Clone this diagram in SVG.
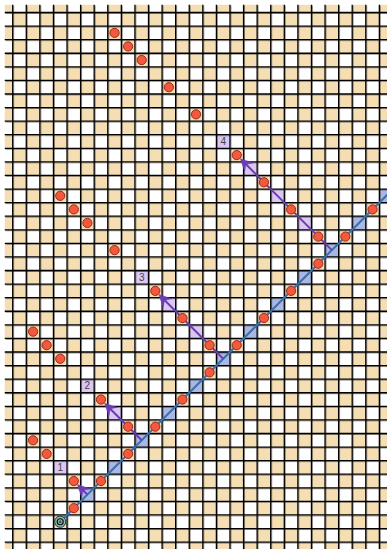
<svg xmlns="http://www.w3.org/2000/svg" width="387" height="549" viewBox="0 0 387 549">
<style>
.dot{fill:#f25a3f;stroke:#a3261a;stroke-width:1}
.bc{fill:#a9b8e3}
.pc{fill:#dcc6f2}
.lab{font-family:"Liberation Sans",Arial,sans-serif;font-size:10px;fill:#444;text-anchor:middle}
.arr{fill:none;stroke:#6a3db5;stroke-width:2}
.ahd{fill:#6a3db5;stroke:#6a3db5;stroke-width:0.5;stroke-linejoin:round}
</style>
<defs>
<pattern id="cb" patternUnits="userSpaceOnUse" x="-0.88" y="-1.08" width="27.16" height="27.16">
<rect width="27.16" height="27.16" fill="#fff"/>
<rect x="0" y="0" width="13.58" height="13.58" fill="#f5deb3"/>
<rect x="13.58" y="13.58" width="13.58" height="13.58" fill="#f5deb3"/>
</pattern>
<clipPath id="cl"><rect x="4.5" y="4.5" width="382.5" height="544.5"/></clipPath>
</defs>
<rect width="387" height="549" fill="#fff"/>
<g id="board" clip-path="url(#cl)">
<rect x="4.5" y="4.5" width="382.5" height="544.5" fill="url(#cb)"/>
<g id="bluecells">
<rect class="bc" x="80.60" y="487.80" width="13.58" height="13.58"/>
<rect class="bc" x="107.76" y="460.64" width="13.58" height="13.58"/>
<rect class="bc" x="134.92" y="433.48" width="13.58" height="13.58"/>
<rect class="bc" x="162.08" y="406.32" width="13.58" height="13.58"/>
<rect class="bc" x="189.24" y="379.16" width="13.58" height="13.58"/>
<rect class="bc" x="216.40" y="352.00" width="13.58" height="13.58"/>
<rect class="bc" x="243.56" y="324.84" width="13.58" height="13.58"/>
<rect class="bc" x="270.72" y="297.68" width="13.58" height="13.58"/>
<rect class="bc" x="297.88" y="270.52" width="13.58" height="13.58"/>
<rect class="bc" x="325.04" y="243.36" width="13.58" height="13.58"/>
<rect class="bc" x="352.20" y="216.20" width="13.58" height="13.58"/>
<rect class="bc" x="379.36" y="189.04" width="13.58" height="13.58"/>
</g>
<g id="purplecells">
<rect class="pc" x="297.88" y="216.20" width="13.58" height="13.58"/>
<rect class="pc" x="270.72" y="189.04" width="13.58" height="13.58"/>
<rect class="pc" x="243.56" y="161.88" width="13.58" height="13.58"/>
<rect class="pc" x="189.24" y="324.84" width="13.58" height="13.58"/>
<rect class="pc" x="162.08" y="297.68" width="13.58" height="13.58"/>
<rect class="pc" x="107.76" y="406.32" width="13.58" height="13.58"/>
</g>
<g id="labelboxes">
<rect class="pc" x="53.44" y="460.64" width="13.58" height="13.58"/>
<rect class="pc" x="80.60" y="379.16" width="13.58" height="13.58"/>
<rect class="pc" x="134.92" y="270.52" width="13.58" height="13.58"/>
<rect class="pc" x="216.40" y="134.72" width="13.58" height="13.58"/>
</g>
<g id="gridlines">
<path transform="translate(1,1)" stroke="#000" stroke-opacity="0.4" stroke-width="1" fill="none" d="M12.70 4.5V549M26.28 4.5V549M39.86 4.5V549M53.44 4.5V549M67.02 4.5V549M80.60 4.5V549M94.18 4.5V549M107.76 4.5V549M121.34 4.5V549M134.92 4.5V549M148.50 4.5V549M162.08 4.5V549M175.66 4.5V549M189.24 4.5V549M202.82 4.5V549M216.40 4.5V549M229.98 4.5V549M243.56 4.5V549M257.14 4.5V549M270.72 4.5V549M284.30 4.5V549M297.88 4.5V549M311.46 4.5V549M325.04 4.5V549M338.62 4.5V549M352.20 4.5V549M365.78 4.5V549M379.36 4.5V549M4.5 12.50H387M4.5 26.08H387M4.5 39.66H387M4.5 53.24H387M4.5 66.82H387M4.5 80.40H387M4.5 93.98H387M4.5 107.56H387M4.5 121.14H387M4.5 134.72H387M4.5 148.30H387M4.5 161.88H387M4.5 175.46H387M4.5 189.04H387M4.5 202.62H387M4.5 216.20H387M4.5 229.78H387M4.5 243.36H387M4.5 256.94H387M4.5 270.52H387M4.5 284.10H387M4.5 297.68H387M4.5 311.26H387M4.5 324.84H387M4.5 338.42H387M4.5 352.00H387M4.5 365.58H387M4.5 379.16H387M4.5 392.74H387M4.5 406.32H387M4.5 419.90H387M4.5 433.48H387M4.5 447.06H387M4.5 460.64H387M4.5 474.22H387M4.5 487.80H387M4.5 501.38H387M4.5 514.96H387M4.5 528.54H387M4.5 542.12H387"/>
<path stroke="#000" stroke-width="1.3" fill="none" d="M12.70 4.5V549M26.28 4.5V549M39.86 4.5V549M53.44 4.5V549M67.02 4.5V549M80.60 4.5V549M94.18 4.5V549M107.76 4.5V549M121.34 4.5V549M134.92 4.5V549M148.50 4.5V549M162.08 4.5V549M175.66 4.5V549M189.24 4.5V549M202.82 4.5V549M216.40 4.5V549M229.98 4.5V549M243.56 4.5V549M257.14 4.5V549M270.72 4.5V549M284.30 4.5V549M297.88 4.5V549M311.46 4.5V549M325.04 4.5V549M338.62 4.5V549M352.20 4.5V549M365.78 4.5V549M379.36 4.5V549M4.5 12.50H387M4.5 26.08H387M4.5 39.66H387M4.5 53.24H387M4.5 66.82H387M4.5 80.40H387M4.5 93.98H387M4.5 107.56H387M4.5 121.14H387M4.5 134.72H387M4.5 148.30H387M4.5 161.88H387M4.5 175.46H387M4.5 189.04H387M4.5 202.62H387M4.5 216.20H387M4.5 229.78H387M4.5 243.36H387M4.5 256.94H387M4.5 270.52H387M4.5 284.10H387M4.5 297.68H387M4.5 311.26H387M4.5 324.84H387M4.5 338.42H387M4.5 352.00H387M4.5 365.58H387M4.5 379.16H387M4.5 392.74H387M4.5 406.32H387M4.5 419.90H387M4.5 433.48H387M4.5 447.06H387M4.5 460.64H387M4.5 474.22H387M4.5 487.80H387M4.5 501.38H387M4.5 514.96H387M4.5 528.54H387M4.5 542.12H387"/>
</g>
</g>
<g id="connectors" clip-path="url(#cl)">
<path id="ray" d="M60.23 521.75L400 181.98" fill="none" stroke="#3e6fa8" stroke-width="2"/>
<g id="arrow1">
<path class="arr" d="M87.39 494.59L82.5 489.7"/>
<path class="ahd" d="M77.41 484.61L90.14 488.86L83.07 490.27L81.66 497.34Z"/>
</g>
<g id="arrow2">
<path class="arr" d="M141.71 440.27L109.9 408.5"/>
<path class="ahd" d="M104.57 403.13L117.30 407.38L110.23 408.79L108.82 415.86Z"/>
</g>
<g id="arrow3">
<path class="arr" d="M223.19 358.79L164.2 299.8"/>
<path class="ahd" d="M158.89 294.49L171.62 298.74L164.55 300.15L163.14 307.22Z"/>
</g>
<g id="arrow4">
<path class="arr" d="M331.83 250.15L245.7 164.0"/>
<path class="ahd" d="M240.37 158.69L253.10 162.94L246.03 164.35L244.62 171.42Z"/>
</g>
</g>
<g id="labels">
<text class="lab" x="60.23" y="470.9">1</text>
<text class="lab" x="87.39" y="389.4">2</text>
<text class="lab" x="141.71" y="280.8">3</text>
<text class="lab" x="223.19" y="145.0">4</text>
</g>
<g id="dots">
<circle class="dot" cx="114.55" cy="32.87" r="4.6"/>
<circle class="dot" cx="128.13" cy="46.45" r="4.6"/>
<circle class="dot" cx="141.71" cy="60.03" r="4.6"/>
<circle class="dot" cx="168.87" cy="87.19" r="4.6"/>
<circle class="dot" cx="196.03" cy="114.35" r="4.6"/>
<circle class="dot" cx="60.23" cy="195.83" r="4.6"/>
<circle class="dot" cx="73.81" cy="209.41" r="4.6"/>
<circle class="dot" cx="87.39" cy="222.99" r="4.6"/>
<circle class="dot" cx="114.55" cy="250.15" r="4.6"/>
<circle class="dot" cx="33.07" cy="331.63" r="4.6"/>
<circle class="dot" cx="46.65" cy="345.21" r="4.6"/>
<circle class="dot" cx="60.23" cy="358.79" r="4.6"/>
<circle class="dot" cx="33.07" cy="440.27" r="4.6"/>
<circle class="dot" cx="46.65" cy="453.85" r="4.6"/>
<circle class="dot" cx="236.77" cy="155.09" r="4.6"/>
<circle class="dot" cx="263.93" cy="182.25" r="4.6"/>
<circle class="dot" cx="291.09" cy="209.41" r="4.6"/>
<circle class="dot" cx="318.25" cy="236.57" r="4.6"/>
<circle class="dot" cx="345.41" cy="236.57" r="4.6"/>
<circle class="dot" cx="372.57" cy="209.41" r="4.6"/>
<circle class="dot" cx="318.25" cy="263.73" r="4.6"/>
<circle class="dot" cx="291.09" cy="290.89" r="4.6"/>
<circle class="dot" cx="263.93" cy="318.05" r="4.6"/>
<circle class="dot" cx="236.77" cy="345.21" r="4.6"/>
<circle class="dot" cx="209.61" cy="345.21" r="4.6"/>
<circle class="dot" cx="182.45" cy="318.05" r="4.6"/>
<circle class="dot" cx="155.29" cy="290.89" r="4.6"/>
<circle class="dot" cx="209.61" cy="372.37" r="4.6"/>
<circle class="dot" cx="182.45" cy="399.53" r="4.6"/>
<circle class="dot" cx="155.29" cy="426.69" r="4.6"/>
<circle class="dot" cx="128.13" cy="426.69" r="4.6"/>
<circle class="dot" cx="100.97" cy="399.53" r="4.6"/>
<circle class="dot" cx="128.13" cy="453.85" r="4.6"/>
<circle class="dot" cx="100.97" cy="481.01" r="4.6"/>
<circle class="dot" cx="73.81" cy="481.01" r="4.6"/>
<circle class="dot" cx="73.81" cy="508.17" r="4.6"/>
</g>
<g id="target">
<circle cx="60.23" cy="521.75" r="5.6" fill="#86bab4" stroke="#1f3535" stroke-width="1"/>
<circle cx="60.23" cy="521.75" r="3" fill="none" stroke="#111" stroke-width="1.2"/>
<circle cx="60.23" cy="521.75" r="1.2" fill="#444"/>
</g>
</svg>
